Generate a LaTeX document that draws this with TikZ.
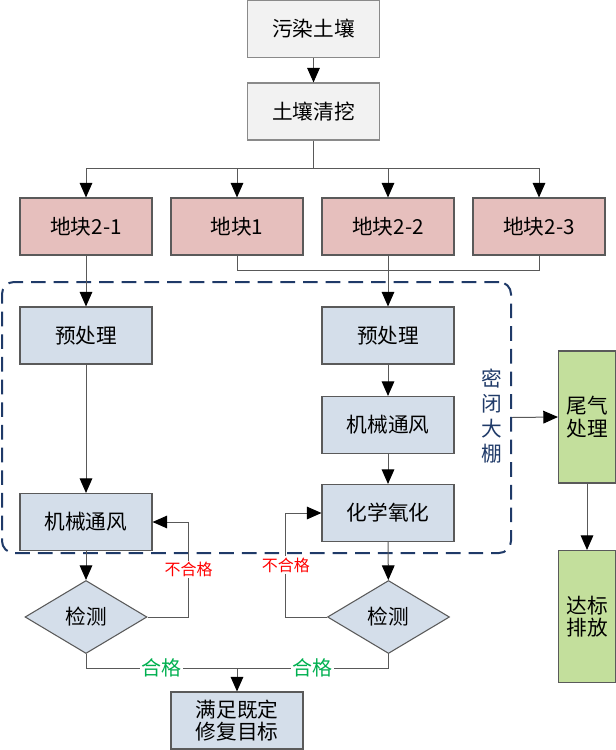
\documentclass[tikz,border=0pt]{standalone}
\usepackage{fontspec}
\newfontfamily\cjk{Noto Sans CJK SC}
\usepackage{tikz}
\usetikzlibrary{arrows.meta,shapes.geometric}
\definecolor{ink}{HTML}{000000}
\definecolor{wire}{HTML}{595959}
\definecolor{boxline}{HTML}{5A5A5A}
\definecolor{greyline}{HTML}{8A8A8A}
\definecolor{greyfill}{HTML}{F2F2F2}
\definecolor{plotfill}{HTML}{E6BFBD}
\definecolor{procfill}{HTML}{D4DEEA}
\definecolor{gasfill}{HTML}{C3DF9C}
\definecolor{shedblue}{HTML}{1F3A68}
\definecolor{failred}{HTML}{FF0000}
\definecolor{passgreen}{HTML}{00B050}
\tikzset{
  font=\cjk\fontsize{15.5}{17}\selectfont,
  >={Triangle[length=11pt,width=9.5pt,color=ink]},
  base/.style={
    draw=boxline, line width=0.8pt, text=ink, align=center,
    inner sep=2pt, minimum width=99pt, minimum height=42.75pt
  },
  greybox/.style={base, draw=greyline, fill=greyfill},
  plotbox/.style={base, fill=plotfill},
  procbox/.style={base, fill=procfill},
  gasbox/.style={base, fill=gasfill, minimum width=42.75pt, minimum height=99pt},
  check/.style={
    diamond, draw=boxline, line width=0.8pt, fill=procfill, text=ink,
    inner sep=0pt, minimum width=91.5pt, minimum height=54.75pt
  },
  group/.style={
    draw=shedblue, line width=1.5pt, rounded corners=9pt,
    dash pattern=on 11pt off 6pt
  },
  shedtag/.style={font=\cjk\fontsize{15.5}{18.75}\selectfont, text=shedblue, align=center},
  line/.style={line width=0.75pt, draw=wire},
  flow/.style={->, line width=0.75pt, draw=wire},
  fail/.style={font=\cjk\fontsize{12}{13}\selectfont, text=failred, fill=white, inner sep=1pt},
  pass/.style={font=\cjk\fontsize{15}{16}\selectfont, text=passgreen, fill=white, inner sep=1pt}
}

\begin{document}
\begin{tikzpicture}[x=0.75pt,y=-0.75pt]
  \useasboundingbox (0,0) rectangle (616,750);

  % sealed shed
  \node[group, minimum width=381.75pt, minimum height=203.25pt] (shed) at (256.5,417.5) {};
  \node[shedtag] (shedlbl) at (492,416) {密\\闭\\大\\棚};

  \node[greybox] (soil) at (313.5,29) {污染土壤};
  \node[greybox] (dig)  at (313.5,111.5) {土壤清挖};
  \coordinate (split) at (313.5,168);

  % plots
  \node[plotbox] (p21) at (86,226.5)  {地块2-1};
  \node[plotbox] (p1)  at (237,226.5) {地块1};
  \node[plotbox] (p22) at (388,226.5) {地块2-2};
  \node[plotbox] (p23) at (539,226.5) {地块2-3};

  % left line
  \node[procbox] (pre1)  at (86,335.5) {预处理};
  \node[procbox] (vent1) at (86,522)   {机械通风};
  \node[check]   (test1) at (86,617)   {检测};

  % right line
  \node[procbox] (pre2)  at (388,335.5) {预处理};
  \node[procbox] (vent2) at (388,425)   {机械通风};
  \node[procbox] (chem)  at (388,513)   {化学氧化};
  \node[check]   (test2) at (388.5,617) {检测};

  \node[procbox] (goal) at (237,720.5) {满足既定\\修复目标};
  \coordinate (merge) at (237,668);

  % off-gas
  \node[gasbox] (gas)  at (587,417)   {尾气\\处理};
  \node[gasbox] (emit) at (587,616.5) {达标\\排放};

  \draw[flow] (soil) -- (dig);
  \draw[line] (dig) -- (split);
  \draw[flow] (split) -| (p21);
  \draw[flow] (split) -| (p1);
  \draw[flow] (split) -| (p22);
  \draw[flow] (split) -| (p23);
  \draw[line] (p1.south) -- ++(0,15) -| (p23.south);

  \draw[flow] (p21) -- (pre1);
  \draw[flow] (pre1) -- (vent1);
  \draw[flow] (vent1) -- (test1);
  \draw[flow] (test1.east) -- ++(41,0) |- node[fail,pos=0.25]{不合格} (vent1.east);

  \draw[flow] (p22) -- (pre2);
  \draw[flow] (pre2) -- (vent2);
  \draw[flow] (vent2) -- (chem);
  \draw[flow] (chem) -- (test2);
  \draw[flow] (test2.west) -- ++(-41,0) |- node[fail,pos=0.25]{不合格} (chem.west);

  \draw[line] (test1.south) |- node[pass,pos=0.75]{合格} (merge);
  \draw[line] (test2.south) |- node[pass,pos=0.75]{合格} (merge);
  \draw[flow] (merge) -- (goal);

  \draw[flow] (shed.east) -- (gas.west);
  \draw[flow] (gas) -- (emit);
\end{tikzpicture}
\end{document}
